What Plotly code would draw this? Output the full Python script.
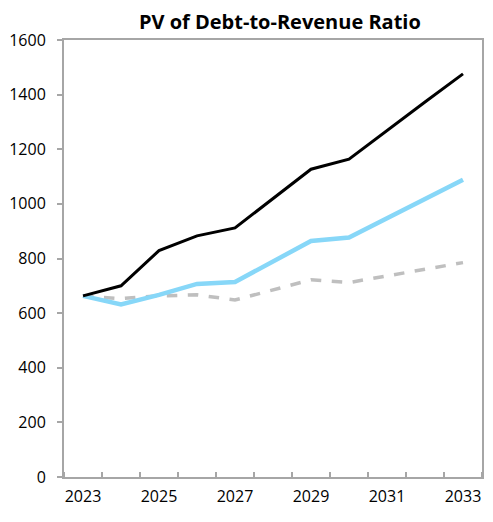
import plotly.graph_objects as go

years = list(range(2023, 2034))
baseline = [663, 700, 829, 883, 912, 1018, 1127, 1164, 1270, 1373, 1476]
historical = [663, 632, 667, 707, 714, 787, 864, 877, 947, 1018, 1088]
threshold = [663, 653, 663, 667, 648, 685, 722, 712, 736, 760, 785]

axis_grey = "#A6A6A6"

fig = go.Figure()
fig.add_trace(go.Scatter(x=years, y=threshold, mode="lines",
                         line=dict(color="#BFBFBF", width=3.5, dash="dash"), name="Threshold"))
fig.add_trace(go.Scatter(x=years, y=historical, mode="lines",
                         line=dict(color="#87D7F8", width=4.5), name="Historical"))
fig.add_trace(go.Scatter(x=years, y=baseline, mode="lines",
                         line=dict(color="black", width=3), name="Baseline"))

# page body adds 8px on each side, so keep the figure inside the window
fig.update_layout(
    width=477, height=506,
    margin=dict(l=55, r=1, t=32, b=37),
    paper_bgcolor="white", plot_bgcolor="white",
    showlegend=False,
    font=dict(family="Open Sans", size=16, color="black"),
    title=dict(text="<b>PV of Debt-to-Revenue Ratio</b>", x=0.57, xanchor="center",
               y=0.972, yanchor="middle",
               font=dict(family="Open Sans", size=20, color="black")),
)
fig.update_xaxes(
    range=[2022.5, 2033.5],
    tickvals=[2023, 2025, 2027, 2029, 2031, 2033],
    ticks="", showgrid=False, zeroline=False,
    showline=True, linecolor=axis_grey, linewidth=2, mirror=True,
    minor=dict(tick0=2022.5, dtick=1, ticks="inside", ticklen=5,
               tickcolor=axis_grey, tickwidth=1.5, showgrid=False),
    tickfont=dict(size=16), ticklabelstandoff=4,
)
fig.update_yaxes(
    range=[0, 1600], dtick=200,
    ticks="outside", ticklen=5, tickcolor=axis_grey, tickwidth=1.5,
    showgrid=False, zeroline=False,
    showline=True, linecolor=axis_grey, linewidth=2, mirror=True,
    tickfont=dict(size=16), ticklabelstandoff=8,
)

fig.write_html("out.html")
